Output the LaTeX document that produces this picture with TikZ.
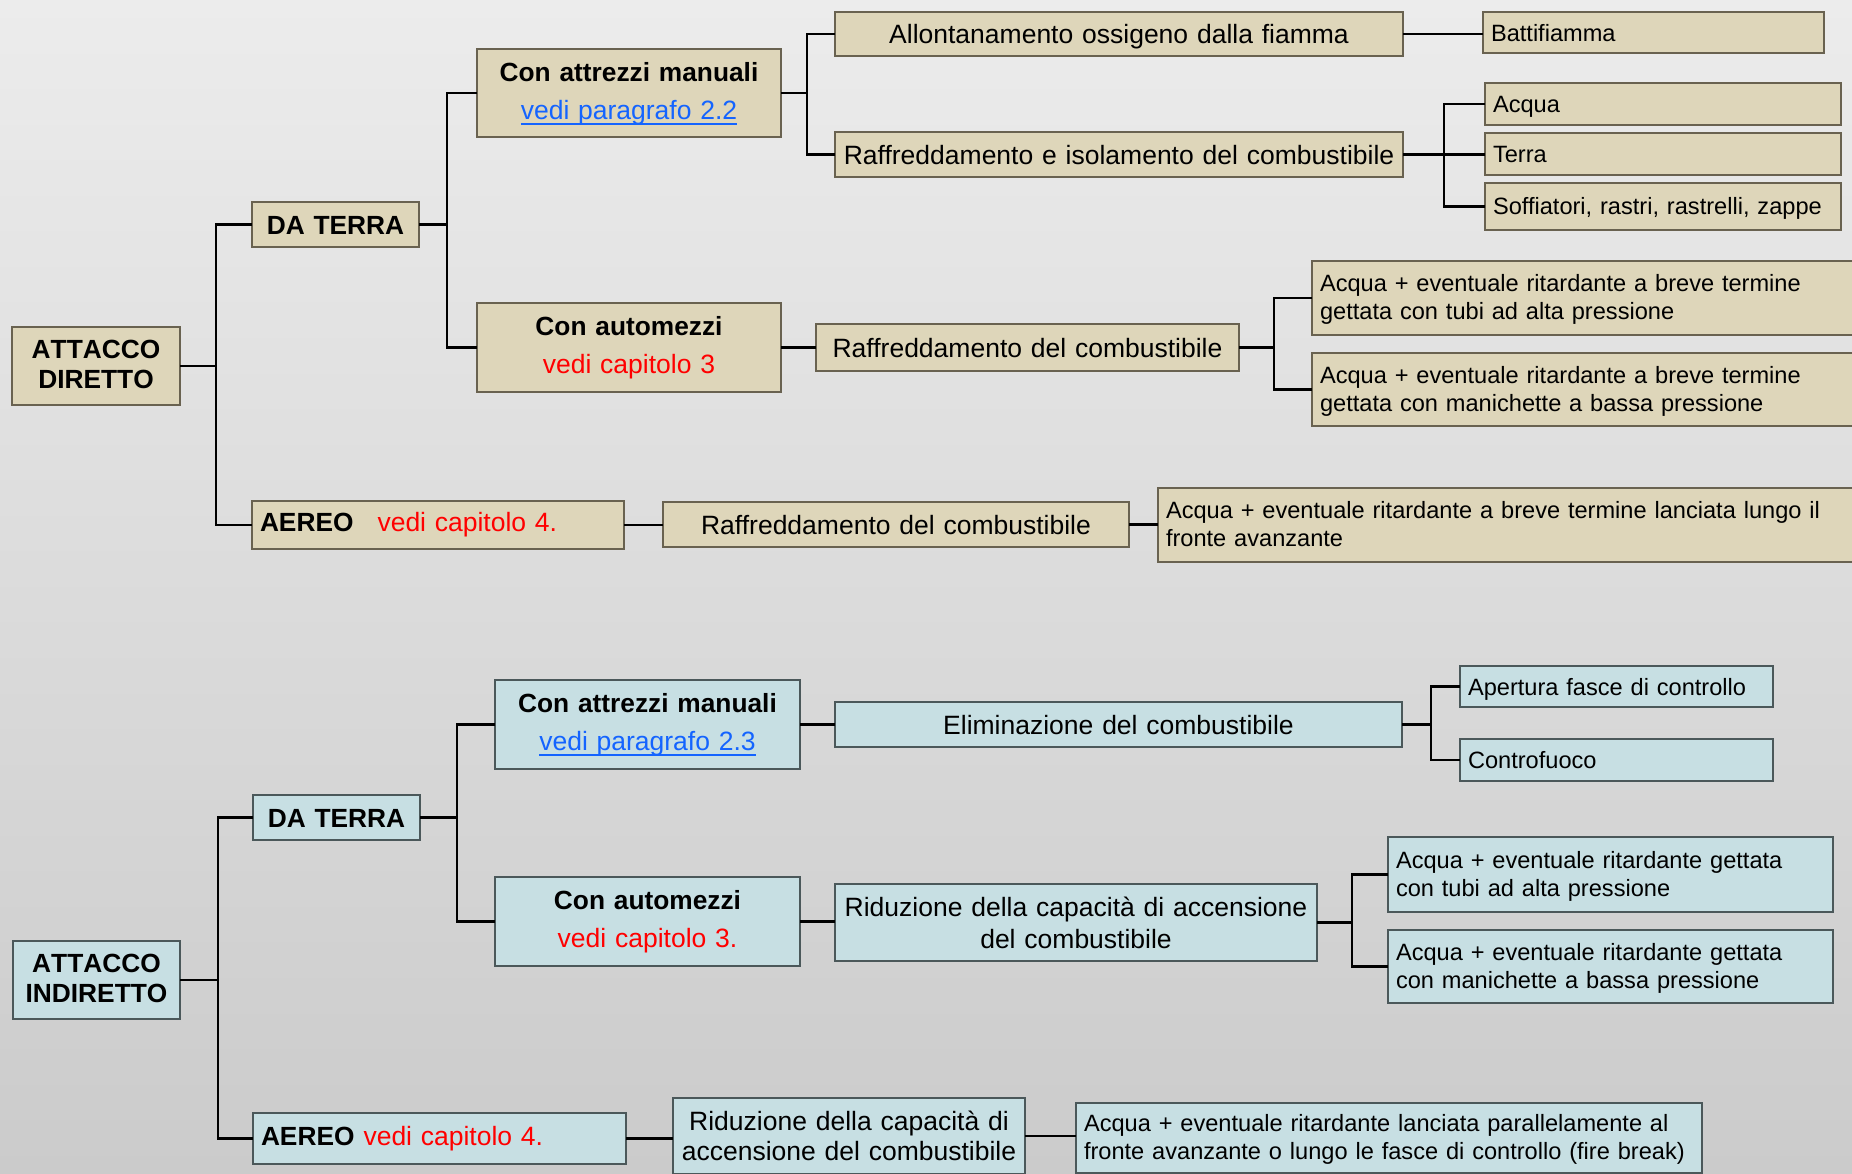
\documentclass[tikz,border=0pt]{standalone}
\usepackage{fontspec}
\setmainfont{Liberation Sans}[BoldFeatures={Kerning=Off}]
\definecolor{tanfill}{RGB}{222,214,186}
\definecolor{tanline}{RGB}{105,98,80}
\definecolor{blufill}{RGB}{199,223,227}
\definecolor{bluline}{RGB}{75,88,90}
\definecolor{linkblue}{RGB}{20,100,255}
\definecolor{redtxt}{RGB}{255,0,0}
\definecolor{bgtop}{RGB}{236,236,236}
\definecolor{bgbot}{RGB}{203,203,203}
\newcommand\mys[1][0.22]{\rule[-#1\baselineskip]{0pt}{\baselineskip}}
\newcommand\myul[1]{\setbox0\hbox{#1}\rlap{\rule[-5.5pt]{\wd0}{1.8pt}}\box0}
\newcommand\myfb{\fontsize{26.3}{30}\selectfont\bfseries}
\newcommand\myfl{\fontsize{26.5}{30}\selectfont}
\newcommand\myfs{\fontsize{23.6}{28}\selectfont}
\newcommand\myfr{\fontsize{26.5}{30}\selectfont}
\newcommand\myftwo{\fontsize{26.3}{38}\selectfont}
\tikzset{
  bx/.style={rectangle, anchor=north west, inner ysep=0pt, outer sep=0pt, line width=1.6pt},
  tanb/.style={bx, fill=tanfill, draw=tanline},
  blub/.style={bx, fill=blufill, draw=bluline},
  lft/.style={inner xsep=8pt, align=left},
  ctr/.style={inner xsep=2pt, align=center},
  conn/.style={line width=2.8pt, draw=black},
}
\begin{document}
\begin{tikzpicture}[x=1pt,y=-1pt]
\clip (0,0) rectangle (1852,1173);
\shade[top color=bgtop, bottom color=bgbot] (0,0) rectangle (1852,1173);

% ---------------- ATTACCO DIRETTO ----------------
\node[tanb, ctr, text width=164pt, minimum height=78pt, font=\myfb] (ad) at (12,327) {\mys[0.26]ATTACCO\\\mys[0.26]DIRETTO};
\node[tanb, ctr, text width=163pt, minimum height=45pt, font=\myfb] (dt1) at (252,202) {\mys[0.18]DA TERRA};
\node[tanb, ctr, text width=300pt, minimum height=88pt, font=\myftwo] (cam1) at (477,49) {\mys[0.31]\textbf{Con attrezzi manuali}\\\mys[0.31]{\myfr\color{linkblue}\myul{vedi paragrafo 2.2}}};
\node[tanb, ctr, text width=300pt, minimum height=89pt, font=\myftwo] (cau1) at (477,303) {\mys[0.31]\textbf{Con automezzi}\\\mys[0.31]{\myfr\color{redtxt}vedi capitolo 3}};
\node[tanb, lft, text width=356pt, minimum height=48pt, font=\fontsize{26.3}{30}\selectfont] (ae1) at (252,501) {\mys[0.28]\textbf{AEREO}\hspace{24pt}{\myfr\color{redtxt}vedi capitolo 4.}};

\node[tanb, ctr, text width=564pt, minimum height=44pt, font=\myfl] (all) at (835,12) {\mys[0.18]Allontanamento ossigeno dalla fiamma};
\node[tanb, ctr, text width=564pt, minimum height=45pt, font=\myfl] (rei) at (835,132) {\mys[0.18]Raffreddamento e isolamento del combustibile};
\node[tanb, lft, text width=325pt, minimum height=41pt, font=\myfs] (bat) at (1483,12) {\mys[0.19]Battifiamma};
\node[tanb, lft, text width=340pt, minimum height=42pt, font=\myfs] (acq) at (1485,83) {\mys[0.19]Acqua};
\node[tanb, lft, text width=340pt, minimum height=42pt, font=\myfs] (ter) at (1485,133) {\mys[0.19]Terra};
\node[tanb, lft, text width=340pt, minimum height=47pt, font=\myfs] (sof) at (1485,183) {\mys[0.22]Soffiatori, rastri, rastrelli, zappe};

\node[tanb, ctr, text width=419pt, minimum height=47pt, font=\myfl] (rdc1) at (816,324) {\mys[0.18]Raffreddamento del combustibile};
\node[tanb, lft, text width=534pt, minimum height=74pt, font=\myfs] (at1) at (1312,261) {\mys[0.23]Acqua + eventuale ritardante a breve termine\\\mys[0.23]gettata con tubi ad alta pressione};
\node[tanb, lft, text width=534pt, minimum height=73pt, font=\myfs] (at2) at (1312,353) {\mys[0.23]Acqua + eventuale ritardante a breve termine\\\mys[0.23]gettata con manichette a bassa pressione};

\node[tanb, ctr, text width=462pt, minimum height=45pt, font=\myfl] (rdc2) at (663,502) {\mys[0.18]Raffreddamento del combustibile};
\node[tanb, lft, text width=688pt, minimum height=74pt, font=\myfs] (al1) at (1158,488) {\mys[0.23]Acqua + eventuale ritardante a breve termine lanciata lungo il\\\mys[0.23]fronte avanzante};

% ---------------- ATTACCO INDIRETTO ----------------
\node[blub, ctr, text width=163pt, minimum height=78pt, font=\myfb] (ai) at (13,941) {\mys[0.26]ATTACCO\\\mys[0.26]INDIRETTO};
\node[blub, ctr, text width=163pt, minimum height=45pt, font=\myfb] (dt2) at (253,795) {\mys[0.18]DA TERRA};
\node[blub, ctr, text width=301pt, minimum height=89pt, font=\myftwo] (cam2) at (495,680) {\mys[0.31]\textbf{Con attrezzi manuali}\\\mys[0.31]{\myfr\color{linkblue}\myul{vedi paragrafo 2.3}}};
\node[blub, ctr, text width=301pt, minimum height=89pt, font=\myftwo] (cau2) at (495,877) {\mys[0.31]\textbf{Con automezzi}\\\mys[0.31]{\myfr\color{redtxt}vedi capitolo 3.}};
\node[blub, lft, text width=357pt, minimum height=51pt, font=\fontsize{26.3}{30}\selectfont] (ae2) at (253,1113) {\mys[0.26]\textbf{AEREO}\hspace{9pt}{\myfr\color{redtxt}vedi capitolo 4.}};

\node[blub, ctr, text width=563pt, minimum height=45pt, font=\myfl] (eli) at (835,702) {\mys[0.17]Eliminazione del combustibile};
\node[blub, lft, text width=297pt, minimum height=41pt, font=\myfs] (ape) at (1460,666) {\mys[0.19]Apertura fasce di controllo};
\node[blub, lft, text width=297pt, minimum height=42pt, font=\myfs] (con) at (1460,739) {\mys[0.19]Controfuoco};

\node[blub, ctr, text width=478pt, minimum height=77pt, font=\myfl] (rid1) at (835,884) {\mys[0.17]Riduzione della capacità di accensione\\\mys[0.17]del combustibile};
\node[blub, lft, text width=429pt, minimum height=75pt, font=\myfs] (ag1) at (1388,837) {\mys[0.23]Acqua + eventuale ritardante gettata\\\mys[0.23]con tubi ad alta pressione};
\node[blub, lft, text width=429pt, minimum height=73pt, font=\myfs] (ag2) at (1388,930) {\mys[0.23]Acqua + eventuale ritardante gettata\\\mys[0.23]con manichette a bassa pressione};

\node[blub, ctr, text width=348pt, minimum height=76pt, font=\myfl] (rid2) at (673,1098) {\mys[0.19]Riduzione della capacità di\\\mys[0.19]accensione del combustibile};
\node[blub, lft, text width=610pt, minimum height=70pt, font=\myfs] (alp) at (1076,1103) {\mys[0.23]\mbox{Acqua + eventuale ritardante lanciata parallelamente al}\\\mys[0.23]\mbox{fronte avanzante o lungo le fasce di controllo (fire break)}};

% ---------------- connectors (top) ----------------
\draw[conn] (ad.east) -- ([xshift=36pt]ad.east);
\draw[conn] (dt1.west) -- ([xshift=-36pt]dt1.west) |- (ae1.west);
\draw[conn] (dt1.east) -- ([xshift=28pt]dt1.east);
\draw[conn] (cam1.west) -- ([xshift=-30pt]cam1.west) |- (cau1.west);
\draw[conn] (cam1.east) -- ([xshift=26pt]cam1.east);
\draw[conn] (all.west) -- ([xshift=-28pt]all.west) |- (rei.west);
\draw[conn] (all.east) -- (all.east -| bat.west);
\draw[conn] (rei.east) -- (rei.east -| ter.west);
\draw[conn] (acq.west) -- ([xshift=-41pt]acq.west) |- (sof.west);
\draw[conn] (cau1.east) -- (cau1.east -| rdc1.west);
\draw[conn] (rdc1.east) -- ([xshift=35pt]rdc1.east);
\draw[conn] (at1.west) -- ([xshift=-38pt]at1.west) |- (at2.west);
\draw[conn] (ae1.east) -- (ae1.east -| rdc2.west);
\draw[conn] (rdc2.east) -- (rdc2.east -| al1.west);

% ---------------- connectors (bottom) ----------------
\draw[conn] (ai.east) -- ([xshift=38pt]ai.east);
\draw[conn] (dt2.west) -- ([xshift=-35pt]dt2.west) |- (ae2.west);
\draw[conn] (dt2.east) -- ([xshift=37pt]dt2.east);
\draw[conn] (cam2.west) -- ([xshift=-38pt]cam2.west) |- (cau2.west);
\draw[conn] (cam2.east) -- (cam2.east -| eli.west);
\draw[conn] (eli.east) -- ([xshift=29pt]eli.east);
\draw[conn] (ape.west) -- ([xshift=-29pt]ape.west) |- (con.west);
\draw[conn] (cau2.east) -- (cau2.east -| rid1.west);
\draw[conn] (rid1.east) -- ([xshift=35pt]rid1.east);
\draw[conn] (ag1.west) -- ([xshift=-36pt]ag1.west) |- (ag2.west);
\draw[conn] (ae2.east) -- (ae2.east -| rid2.west);
\draw[conn] (rid2.east) -- (rid2.east -| alp.west);
\end{tikzpicture}
\end{document}
